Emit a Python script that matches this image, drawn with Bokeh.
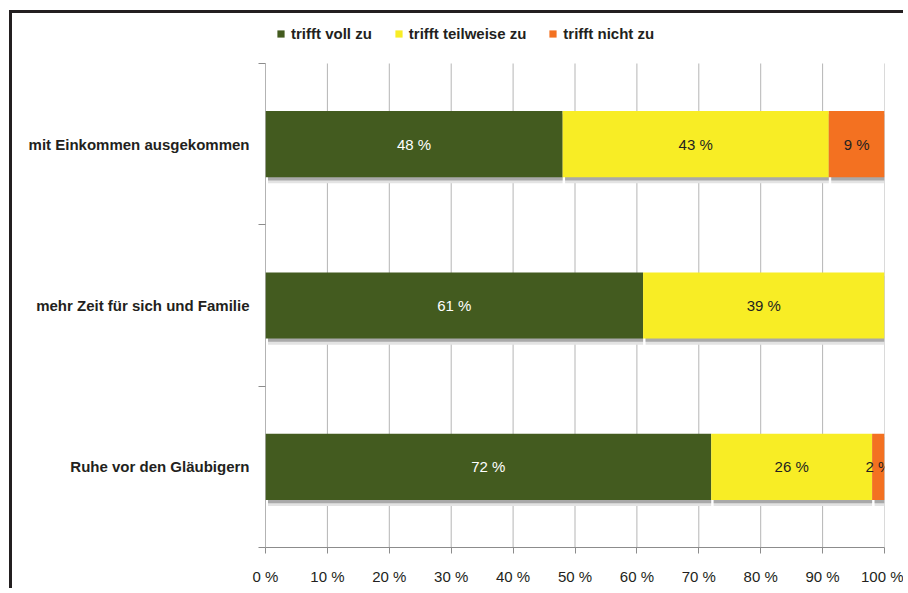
from bokeh.plotting import figure
from bokeh.models import FixedTicker, Legend, LegendItem, ColumnDataSource, Range1d
from bokeh.embed import file_html
from bokeh.resources import INLINE
from bokeh.core.properties import value

# ---- data ----
categories = ["mit Einkommen ausgekommen", "mehr Zeit für sich und Familie", "Ruhe vor den Gläubigern"]
series_names = ["trifft voll zu", "trifft teilweise zu", "trifft nicht zu"]
voll = [48, 61, 72]
teilweise = [43, 39, 26]
nicht = [9, 0, 2]
x_ticks = [0, 10, 20, 30, 40, 50, 60, 70, 80, 90, 100]
x_tick_labels = ["0 %", "10 %", "20 %", "30 %", "40 %", "50 %", "60 %", "70 %", "80 %", "90 %", "100 %"]

# ---- styles ----
colors = ["#435b1f", "#f8ed25", "#f37121"]
label_colors = ["#ffffff", "#231f20", "#231f20"]
FONT = "Liberation Sans"
TXT = "#231f20"
AXIS = "#8c8c8c"

n = len(categories)
ypos = [n - i - 0.5 for i in range(n)]
bar_h = 0.41

# frame: plot area 484 px tall for the categories, plus 50 px headroom for the legend
FRAME_H = 534
PLOT_H = 484
y_top = n * FRAME_H / PLOT_H

p = figure(width=894, height=578, x_range=Range1d(0, 100), y_range=Range1d(0, y_top),
           output_backend="svg", toolbar_location=None,
           min_border_left=253, min_border_right=22, min_border_top=0, min_border_bottom=44)
p.styles = {"border-left": "3px solid #231f20", "border-top": "3px solid #231f20",
            "margin-left": "9px", "margin-top": "10px"}
p.outline_line_color = None
p.background_fill_color = "white"
p.xgrid.grid_line_color = None
p.ygrid.grid_line_color = None

# vertical grid lines limited to the category area
p.segment(x0=x_ticks, x1=x_ticks, y0=[0] * len(x_ticks), y1=[n] * len(x_ticks),
          line_color="#b5b5b5", line_width=1)

p.xaxis.ticker = FixedTicker(ticks=x_ticks)
p.xaxis.major_label_overrides = {t: l for t, l in zip(x_ticks, x_tick_labels)}
p.xaxis.axis_line_color = AXIS
p.xaxis.major_tick_line_color = AXIS
p.xaxis.major_tick_out = 6
p.xaxis.major_tick_in = 0
p.xaxis.minor_tick_line_color = None
p.xaxis.major_label_text_font = FONT
p.xaxis.major_label_text_font_size = "15px"
p.xaxis.major_label_text_color = TXT
p.xaxis.major_label_standoff = 14

p.yaxis.ticker = FixedTicker(ticks=ypos, minor_ticks=[float(i) for i in range(n + 1)])
p.yaxis.major_label_overrides = {y: c for y, c in zip(ypos, categories)}
p.yaxis.axis_line_color = None
p.yaxis.major_tick_line_color = None
p.yaxis.major_tick_out = 0
p.yaxis.major_tick_in = 0
p.yaxis.minor_tick_line_color = AXIS
p.yaxis.minor_tick_out = 7
p.yaxis.minor_tick_in = 0
p.yaxis.major_label_text_font = FONT
p.yaxis.major_label_text_font_style = "bold"
p.yaxis.major_label_text_font_size = "15px"
p.yaxis.major_label_text_color = TXT
p.yaxis.major_label_standoff = 9

# y axis line over the category area only
p.segment(x0=[0], x1=[0], y0=[0], y1=[n], line_color=AXIS, line_width=1)

series = [voll, teilweise, nicht]
lefts = [0.0] * n
renderers = []
for k, vals in enumerate(series):
    left = list(lefts)
    right = [l + v for l, v in zip(left, vals)]
    mid = [(l + r) / 2 for l, r in zip(left, right)]
    labels = [f"{v} %" if v > 0 else "" for v in vals]
    src = ColumnDataSource(dict(y=ypos, left=left, right=right, mid=mid, lab=labels,
                                sl=[l + 0.4 if r > l else l for l, r in zip(left, right)],
                                sy1=[y - 0.038 for y in ypos], sy2=[y - 0.02 for y in ypos]))
    # shadow
    p.hbar(y="sy1", left="sl", right="right", height=bar_h, source=src,
           fill_color="#e3e3e3", line_color=None)
    p.hbar(y="sy2", left="sl", right="right", height=bar_h, source=src,
           fill_color="#a9a9a9", line_color=None)
    r = p.hbar(y="y", left="left", right="right", height=bar_h, source=src,
               fill_color=colors[k], line_color=None)
    renderers.append(r)
    p.text(x="mid", y="y", text="lab", source=src, text_align="center", text_baseline="middle",
           text_font=value(FONT), text_font_size="15px", text_color=label_colors[k])
    lefts = right

legend = Legend(items=[LegendItem(label=nm, renderers=[r]) for nm, r in zip(series_names, renderers)],
                orientation="horizontal", location=(11, 505))
legend.background_fill_alpha = 0
legend.border_line_color = None
legend.padding = 0
legend.margin = 0
legend.spacing = 22
legend.label_standoff = 6
legend.glyph_width = 9
legend.glyph_height = 9
legend.label_height = 15
legend.label_text_font = FONT
legend.label_text_font_style = "bold"
legend.label_text_font_size = "15px"
legend.label_text_color = TXT
p.add_layout(legend, "center")

open("out.html", "w").write(file_html(p, INLINE))
